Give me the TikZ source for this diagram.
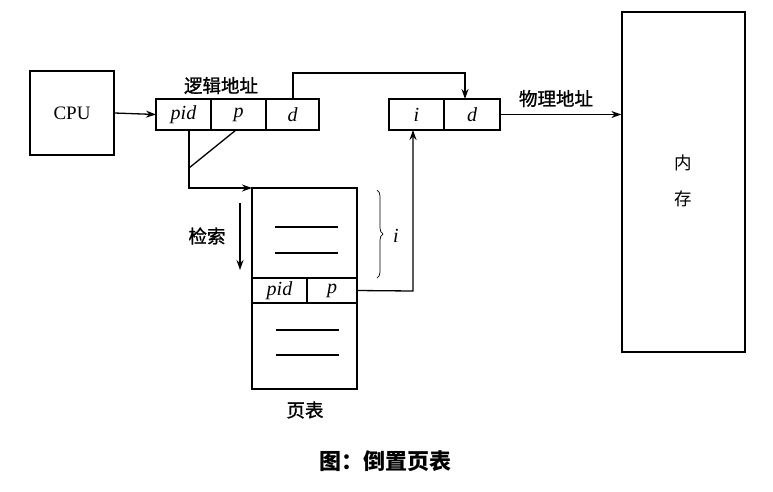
\documentclass[tikz,border=0pt]{standalone}
\usepackage{fontspec}
\setmainfont{Liberation Serif}
\newfontfamily\cjk{Noto Sans CJK SC}
\newfontfamily\cjkm[FakeBold=1.2]{Noto Sans CJK SC}
\usetikzlibrary{arrows.meta,decorations.pathreplacing}
\begin{document}
\begin{tikzpicture}[x=1pt,y=-1pt,
  line width=1.3pt,
  box/.style={draw,minimum width=#1,minimum height=31pt,inner sep=0pt,outer sep=0pt},
  arr/.style={-{Stealth[length=10pt,width=7pt]}},
  it/.style={font=\fontsize{20}{20}\selectfont\itshape},
  zh/.style={font=\cjkm\fontsize{18.5}{18.5}\selectfont},
  zhl/.style={font=\cjk\fontsize{17.5}{17.5}\selectfont},
  bar/.style={line width=1.3pt}]
\useasboundingbox (0,0) rectangle (773,491);
% CPU
\node[draw,minimum width=84pt,minimum height=84pt,inner sep=0pt,font=\fontsize{19}{19}\selectfont] (cpu) at (72,113) {CPU};
% logical address
\node[box=55pt,it] (lpid) at (183.5,114.5) {pid};
\node[box=55pt,it,anchor=west] (lp) at (lpid.east) {p};
\node[box=53pt,it,anchor=west] (ld) at (lp.east) {d};
\node[zh,anchor=south] (lalab) at (221,98) {逻辑地址};
\draw[arr] (cpu.east) -- (lpid.west);
% physical address
\node[box=55pt,it] (pi) at (416.5,114.5) {i};
\node[box=56pt,it,anchor=west] (pd) at (pi.east) {d};
\node[zh,anchor=south] (palab) at (556,111) {物理地址};
% memory
\node[draw,minimum width=123pt,minimum height=340pt,inner sep=0pt] (mem) at (683.5,182) {};
\node[zhl] (m1) at (683,163) {内};
\node[zhl] (m2) at (683,199) {存};
\draw[arr] (pd.east) -- (pd.east -| mem.west);
% d -> d
\coordinate (dtop) at (293,99);
\draw[arr] (dtop) -- (293,73) -- (465,73) -- (465,99);
% page table
\node[draw,minimum width=105pt,minimum height=90pt,inner sep=0pt,outer sep=0pt] (up) at (304.5,233) {};
\node[draw,minimum width=55pt,minimum height=25pt,inner sep=0pt,outer sep=0pt,anchor=north west,it] (tpid) at (up.south west) {pid};
\node[draw,minimum width=50pt,minimum height=25pt,inner sep=0pt,outer sep=0pt,anchor=north west,it] (tp) at (tpid.north east) {p};
\node[draw,minimum width=105pt,minimum height=86pt,inner sep=0pt,outer sep=0pt,anchor=north west] (low) at (tpid.south west) {};
\draw[bar] (275,227) -- (338,227);
\draw[bar] (275,253) -- (338,253);
\draw[bar] (276,330) -- (339,330);
\draw[bar] (276,355) -- (339,355);
\node[zh] (ptlab) at (305,410) {页表};
% pid -> table
\coordinate (pidbot) at (189,130);
\coordinate (junc) at (189,168);
\draw[arr] (pidbot) -- (189,188) -- (up.north west);
\draw (236,130) -- (junc);
% search
\coordinate (s1) at (240,203);
\coordinate (s2) at (240,270);
\draw[arr] (s1) -- (s2);
\node[zh] (search) at (207,236) {检索};
% brace
\draw[line width=0.7pt,decorate,decoration={brace,amplitude=6pt}] (377,190) -- (377,278);
\node[it] (ilab) at (396,236) {i};
% p -> i
\coordinate (pibot) at (413,130);
\draw[arr] (tp.east) -- (413,291) -- (pibot);
% caption
\node[font=\cjk\bfseries\fontsize{22}{22}\selectfont] (cap) at (385,461) {图：倒置页表};
\end{tikzpicture}
\end{document}
